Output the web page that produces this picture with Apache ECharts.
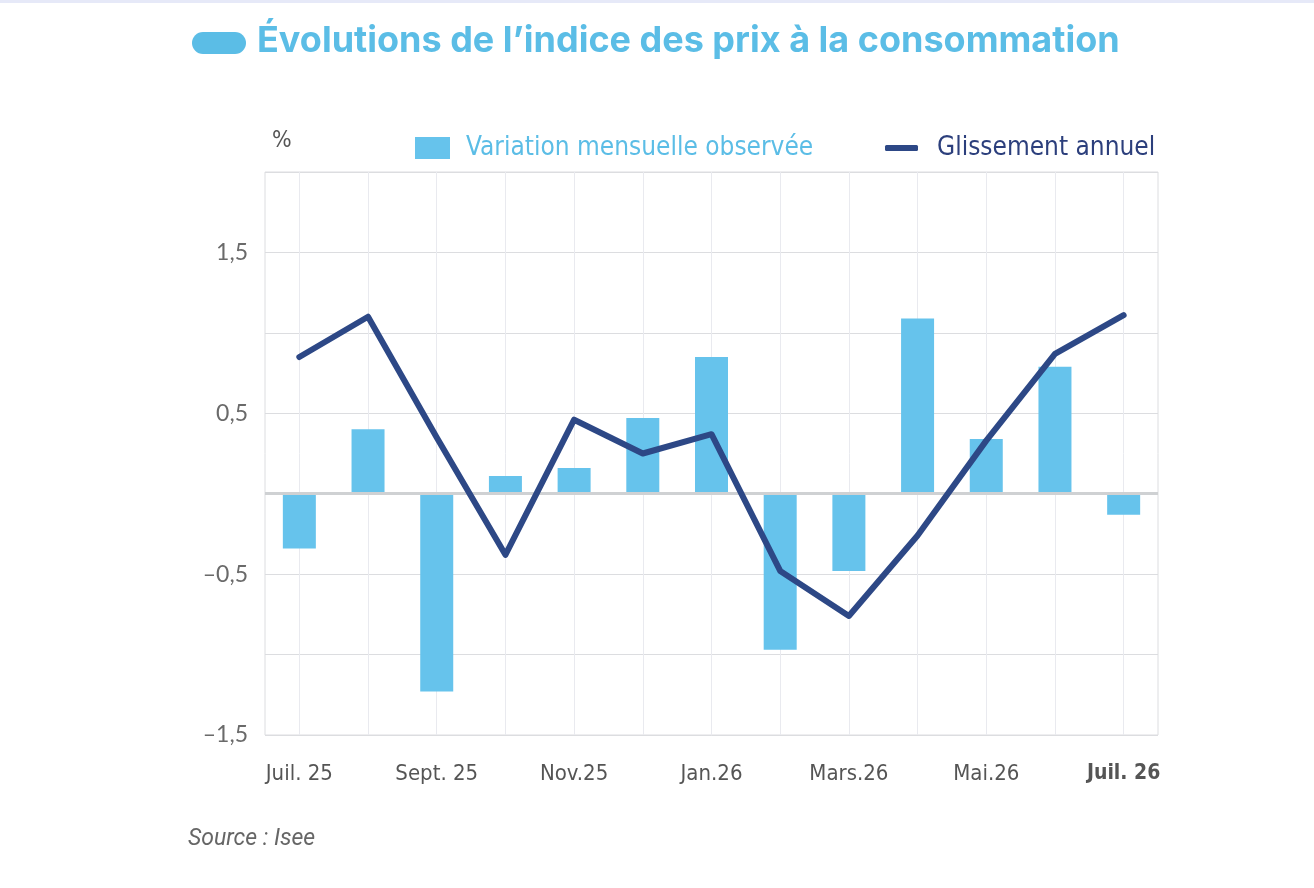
<!DOCTYPE html>
<html>
<head>
<meta charset="utf-8">
<script src="https://cdn.jsdelivr.net/npm/echarts@6/dist/echarts.min.js"></script>
<style>
html,body{margin:0;padding:0;background:#fff;}
#c{width:1314px;height:888px;}
</style>
</head>
<body>
<div id="c"></div>
<script>
const categories = ['Juil. 25','Août 25','Sept. 25','Oct. 25','Nov.25','Déc. 25','Jan.26','Févr.26','Mars.26','Avr.26','Mai.26','Juin 26','Juil. 26'];
const variationMensuelle = [-0.34, 0.40, -1.23, 0.11, 0.16, 0.47, 0.85, -0.97, -0.48, 1.09, 0.34, 0.79, -0.13];
const glissementAnnuel = [0.85, 1.10, 0.35, -0.38, 0.46, 0.25, 0.37, -0.48, -0.76, -0.26, 0.33, 0.87, 1.11];
const yTickLabels = {'1.5':'1,5','0.5':'0,5','-0.5':'–0,5','-1.5':'–1,5'};

const COND = '"DejaVu Sans Condensed", "Liberation Sans Narrow", Roboto, sans-serif';
const chart = echarts.init(document.getElementById('c'));
chart.setOption({
  animation: false,
  backgroundColor: '#fff',
  title: {
    text: 'Évolutions de l\u2019indice des prix à la consommation',
    left: 252, top: 18,
    textStyle: {fontSize: 36, fontWeight: 'bold', color: '#5bbde6', fontFamily: 'Inter, "Noto Sans", sans-serif'}
  },
  graphic: [
    {type: 'rect', left: 0, top: 0, shape: {width: 1314, height: 3}, style: {fill: '#e6e9f8'}},
    {type: 'rect', left: 192, top: 32, shape: {width: 54, height: 22, r: 11}, style: {fill: '#5bbde6'}},
    {type: 'text', left: 272, top: 130, style: {text: '%', fontSize: 23, fill: '#555', fontFamily: COND}},
    {type: 'text', left: 188, top: 828, style: {text: 'Source : Isee', fontSize: 23, fontStyle: 'italic', fill: '#666', fontFamily: 'Roboto, sans-serif'}}
  ],
  legend: [
    {
      data: [{name: 'Variation mensuelle observée', icon: 'rect'}],
      left: 410, top: 130, itemWidth: 35, itemHeight: 22, itemGap: 10,
      textStyle: {color: '#5bbde6', fontSize: 26, fontFamily: COND, padding: [0,0,0,11]}
    },
    {
      data: [{name: 'Glissement annuel', icon: 'roundRect'}],
      left: 880, top: 130, itemWidth: 33, itemHeight: 6,
      textStyle: {color: '#2c3f7c', fontSize: 26, fontFamily: COND, padding: [0,0,0,14]}
    }
  ],
  grid: {left: 265, top: 172, width: 893, height: 563, show: true, borderColor: '#dcdde0', borderWidth: 1},
  xAxis: {
    type: 'category',
    data: categories,
    boundaryGap: true,
    axisLine: {show: false},
    axisTick: {show: false},
    splitLine: {show: true, alignWithLabel: true, interval: 0, lineStyle: {color: '#e9eaef', width: 1}},
    axisLabel: {
      interval: 1, margin: 28, fontSize: 22, color: '#555', fontFamily: COND,
      formatter: function (v, i) { return i === categories.length - 1 ? '{b|' + v + '}' : v; },
      rich: {b: {fontWeight: 'bold', fontSize: 21, color: '#555', fontFamily: COND, padding: [0, 0, 0, 0]}}
    }
  },
  yAxis: {
    type: 'value', min: -1.5, max: 2, interval: 0.5,
    axisLine: {show: false}, axisTick: {show: false},
    splitLine: {lineStyle: {color: '#dcdde0', width: 1}},
    axisLabel: {
      margin: 17, fontSize: 23, color: '#6a6a6a', fontFamily: 'Lato, "Noto Sans", sans-serif',
      formatter: function (v) { const k = String(Math.round(v * 10) / 10); return yTickLabels[k] || ''; }
    }
  },
  series: [
    {
      name: 'Variation mensuelle observée', type: 'bar', data: variationMensuelle,
      barWidth: 33, itemStyle: {color: '#66c3ec'}, z: 2,
      markLine: {
        silent: true, symbol: 'none', label: {show: false},
        lineStyle: {color: '#cfd1d3', width: 3, type: 'solid'},
        data: [{yAxis: 0}]
      }
    },
    {
      name: 'Glissement annuel', type: 'line', data: glissementAnnuel,
      symbol: 'none', z: 5,
      lineStyle: {color: '#2d4886', width: 6, cap: 'round', join: 'round'},
      itemStyle: {color: '#2d4886'}
    }
  ]
});
</script>
</body>
</html>
